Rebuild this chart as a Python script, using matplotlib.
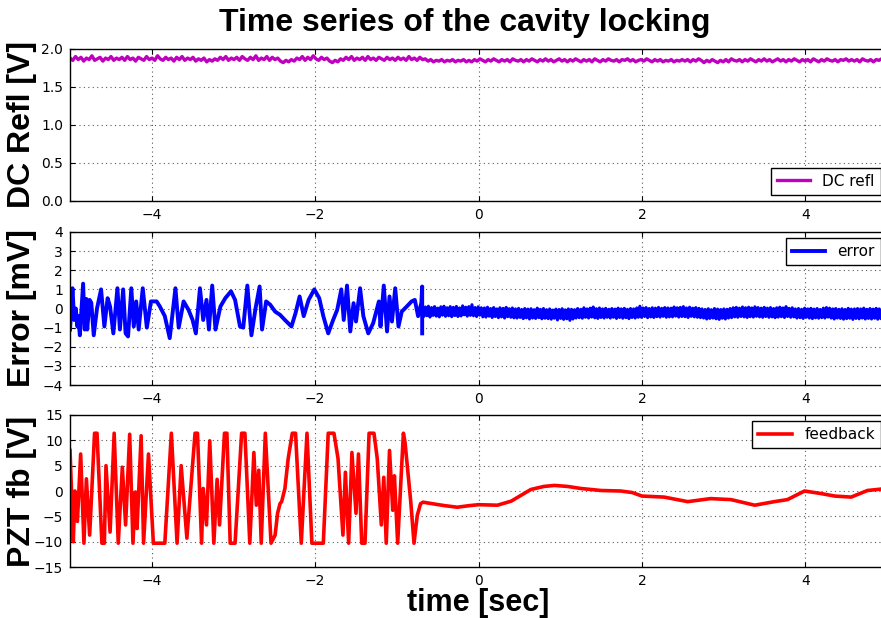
import matplotlib
matplotlib.use('Agg')
import matplotlib.pyplot as plt
import numpy as np

# DC reflection [V], sampled evenly from -5 to 5 s
dc_v = [
    1.88, 1.85, 1.90, 1.86, 1.89, 1.84, 1.88, 1.86, 1.91, 1.85, 1.87, 1.89, 1.84, 1.88, 1.86, 1.90, 1.85, 1.88, 1.86, 1.89,
    1.85, 1.90, 1.86, 1.88, 1.84, 1.89, 1.87, 1.85, 1.90, 1.86, 1.88, 1.85, 1.91, 1.87, 1.85, 1.89, 1.86, 1.88, 1.84, 1.89,
    1.86, 1.90, 1.85, 1.88, 1.86, 1.89, 1.84, 1.87, 1.85, 1.88, 1.83, 1.86, 1.84, 1.87, 1.85, 1.89, 1.86, 1.90, 1.85, 1.88,
    1.86, 1.89, 1.85, 1.90, 1.87, 1.85, 1.89, 1.86, 1.91, 1.85, 1.88, 1.86, 1.90, 1.85, 1.89, 1.86, 1.88, 1.84, 1.82, 1.85,
    1.83, 1.86, 1.84, 1.88, 1.86, 1.90, 1.85, 1.89, 1.86, 1.91, 1.87, 1.85, 1.89, 1.86, 1.88, 1.84, 1.82, 1.85, 1.83, 1.87,
    1.85, 1.89, 1.86, 1.90, 1.85, 1.88, 1.86, 1.89, 1.85, 1.90, 1.86, 1.88, 1.85, 1.89, 1.87, 1.85, 1.89, 1.86, 1.88, 1.85,
    1.89, 1.86, 1.88, 1.85, 1.90, 1.86, 1.88, 1.85, 1.89, 1.86, 1.87, 1.84, 1.86, 1.83, 1.85, 1.84, 1.86, 1.83, 1.85, 1.84,
    1.86, 1.83, 1.85, 1.84, 1.86, 1.83, 1.85,
    1.83, 1.86, 1.84, 1.87, 1.85, 1.83, 1.86, 1.84, 1.87, 1.85, 1.83, 1.86, 1.84, 1.86, 1.83, 1.87, 1.85, 1.84, 1.86, 1.83,
    1.86, 1.84, 1.87, 1.85, 1.83, 1.86, 1.84, 1.87, 1.84, 1.86, 1.83, 1.85, 1.87, 1.84, 1.86, 1.83, 1.86, 1.84, 1.87, 1.85,
    1.83, 1.86, 1.84, 1.86, 1.83, 1.87, 1.85, 1.83, 1.86, 1.84, 1.87, 1.85, 1.84, 1.86, 1.83, 1.86, 1.85, 1.87, 1.84, 1.86,
    1.83, 1.85, 1.86, 1.84, 1.87, 1.85, 1.83, 1.86, 1.84, 1.86, 1.83, 1.85, 1.84, 1.86, 1.83, 1.85, 1.84, 1.86, 1.84, 1.86,
    1.83, 1.86, 1.84, 1.87, 1.85, 1.82, 1.85, 1.83, 1.86, 1.84, 1.82, 1.85, 1.83, 1.86, 1.83, 1.87, 1.85, 1.84, 1.86, 1.83,
    1.86, 1.84, 1.87, 1.85, 1.83, 1.86, 1.84, 1.87, 1.84, 1.86, 1.83, 1.85, 1.87, 1.84, 1.86, 1.83, 1.86, 1.84, 1.87, 1.85,
    1.83, 1.86, 1.84, 1.86, 1.83, 1.87, 1.85, 1.83, 1.86, 1.84, 1.87, 1.85, 1.84, 1.86, 1.83, 1.86, 1.85, 1.87, 1.84, 1.86,
    1.84, 1.86, 1.83, 1.87, 1.85, 1.84, 1.86, 1.83, 1.86, 1.85, 1.87, 1.84, 1.86,
]

# error signal [mV] while unlocked (turning points)
err_t = [
    -5.00, -4.97, -4.95, -4.93, -4.91, -4.90, -4.88, -4.84, -4.82, -4.80,
    -4.79, -4.76, -4.74, -4.71, -4.67, -4.62, -4.58, -4.54, -4.51, -4.47,
    -4.42, -4.39, -4.35, -4.32, -4.29, -4.25, -4.22, -4.19, -4.16, -4.11,
    -4.06, -4.01, -3.94, -3.90, -3.84, -3.78, -3.71, -3.67, -3.61, -3.55,
    -3.50, -3.46, -3.41, -3.37, -3.33, -3.30, -3.26, -3.22, -3.16, -3.10,
    -3.03, -2.98, -2.92, -2.88, -2.83, -2.78, -2.73, -2.68, -2.65, -2.60,
    -2.55, -2.49, -2.43, -2.37, -2.29, -2.24, -2.19, -2.14, -2.08, -2.01,
    -1.95, -1.90, -1.84, -1.78, -1.73, -1.68, -1.65, -1.61, -1.57, -1.53,
    -1.50, -1.45, -1.41, -1.35, -1.29, -1.22, -1.20, -1.16, -1.12, -1.09,
    -1.06, -1.02, -0.98, -0.94, -0.88, -0.82, -0.78, -0.74, -0.70, -0.69,
    -0.69,
]
err_v = [
    -1.10, 1.06, -0.60, 0.00, -0.94, -0.40, -1.40, 1.30, -1.10, 0.50,
    -1.10, 0.45, 0.30, -1.40, 0.00, 1.00, -0.94, 0.54, 0.10, -1.30,
    1.06, -1.10, 1.00, -1.30, -1.46, 1.06, -0.94, 0.37, -1.10, 1.06,
    -1.00, 0.37, 0.37, 0.10, -0.40, -1.55, 1.06, -1.00, 0.37, -0.07,
    -0.60, -1.30, 1.06, -0.60, 0.45, -1.10, 1.20, -1.10, 0.10, 0.54,
    0.90, 0.45, -0.94, -1.00, 1.20, -1.40, 0.00, 1.15, -1.10, 0.37,
    0.20, -0.16, -0.33, -0.60, -0.94, -0.24, 0.63, -0.40, 0.45, 1.00,
    0.54, -0.40, -1.30, -0.60, -0.07, 1.00, -0.60, 1.20, -1.20, 0.28,
    -0.68, 1.06, -0.40, -1.30, -0.77, 0.37, -0.94, 1.20, -1.20, 0.63,
    -0.68, 1.06, -0.94, -0.16, 0.10, 0.37, 0.45, -0.40, 0.30, 1.15,
    -1.30,
]

# error signal [mV] once locked, sampled evenly from -0.69 to 5 s
err_lock_v = [
    0.15, -0.42, 0.08, -0.38, 0.12, -0.45, 0.05, -0.36, 0.10, -0.40, 0.02, -0.44, 0.09, -0.35, 0.12, -0.41, 0.04, -0.38, 0.10, -0.43,
    0.06, -0.37, 0.11, -0.42, 0.03, -0.39, 0.14, -0.33, 0.07, -0.40, 0.10, -0.36, 0.20, -0.38, 0.05, -0.42, 0.09, -0.35, 0.04, -0.44,
    0.03, -0.45, 0.07, -0.40, 0.00, -0.47, 0.05, -0.42, -0.02, -0.48, 0.04, -0.44, 0.01, -0.50, 0.06, -0.43, -0.01, -0.46, 0.03, -0.49,
    -0.02, -0.50, 0.01, -0.47, -0.05, -0.53, 0.00, -0.49, -0.03, -0.55, -0.01, -0.50, -0.06, -0.52, 0.02, -0.48, -0.04, -0.54, 0.00, -0.51,
    -0.06, -0.53, -0.02, -0.56, -0.08, -0.51, -0.03, -0.60, -0.05, -0.52, -0.01, -0.57, -0.07, -0.54, -0.02, -0.62, -0.04, -0.55, -0.06, -0.50,
    0.00, -0.48, -0.04, -0.51, 0.04, -0.46, -0.02, -0.50, 0.02, -0.45, 0.08, -0.49, -0.01, -0.52, 0.03, -0.47, -0.02, -0.50, 0.01, -0.46,
    -0.04, -0.50, 0.00, -0.46, -0.03, -0.52, 0.02, -0.47, -0.02, -0.51, 0.01, -0.48, -0.04, -0.53, 0.00, -0.47, -0.02, -0.50, 0.03, -0.46,
    0.12, -0.46, 0.03, -0.42, 0.05, -0.48, 0.00, -0.44, 0.04, -0.47, 0.02, -0.43, 0.06, -0.45, 0.01, -0.41, 0.05, -0.46, 0.03, -0.44,
    0.02, -0.44, 0.08, -0.40, 0.04, -0.45, 0.06, -0.42, 0.10, -0.43, 0.03, -0.47, 0.07, -0.41, 0.02, -0.44, 0.05, -0.46, 0.01, -0.48,
    -0.02, -0.50, -0.05, -0.55, -0.01, -0.52, -0.06, -0.50, 0.00, -0.54, -0.03, -0.57, -0.05, -0.51, -0.02, -0.55, -0.04, -0.50, 0.00, -0.48,
    0.04, -0.44, 0.06, -0.46, 0.02, -0.42, 0.08, -0.44, 0.04, -0.47, 0.07, -0.43, 0.03, -0.45, 0.09, -0.41, 0.05, -0.44, 0.02, -0.46,
    0.06, -0.42, 0.02, -0.46, 0.05, -0.44, 0.00, -0.48, 0.04, -0.45, 0.07, -0.43, 0.03, -0.47, 0.10, -0.42, 0.01, -0.46, 0.04, -0.44,
    -0.02, -0.50, 0.00, -0.48, -0.04, -0.52, 0.02, -0.46, -0.02, -0.50, 0.01, -0.53, -0.03, -0.49, 0.00, -0.51, -0.05, -0.48, 0.02, -0.50,
    0.05, -0.45, 0.02, -0.50, -0.02, -0.55, 0.00, -0.50, -0.04, -0.52, -0.01, -0.56, -0.05, -0.53, 0.01, -0.51, -0.03, -0.57, -0.02, -0.52,
    0.00, -0.54, -0.02, -0.50, 0.02, -0.55, -0.04, -0.52, 0.00, -0.55, -0.03, -0.51, 0.01, -0.56, -0.02, -0.53, -0.05, -0.58, 0.00, -0.54,
]

# PZT feedback [V] (turning points)
fb_t = [
    -5.00, -4.96, -4.94, -4.91, -4.87, -4.83, -4.80, -4.76, -4.70, -4.67,
    -4.61, -4.58, -4.56, -4.51, -4.46, -4.41, -4.36, -4.32, -4.27, -4.23,
    -4.20, -4.18, -4.13, -4.10, -4.04, -3.98, -3.84, -3.76, -3.69, -3.64,
    -3.57, -3.47, -3.44, -3.39, -3.37, -3.33, -3.29, -3.24, -3.20, -3.17,
    -3.11, -3.08, -3.04, -2.98, -2.90, -2.86, -2.80, -2.75, -2.72, -2.69,
    -2.66, -2.61, -2.54, -2.49, -2.46, -2.43, -2.41, -2.37, -2.33, -2.28,
    -2.24, -2.17, -2.10, -2.04, -1.90, -1.84, -1.77, -1.72, -1.66, -1.63,
    -1.59, -1.55, -1.50, -1.47, -1.43, -1.39, -1.34, -1.28, -1.24, -1.19,
    -1.16, -1.13, -1.09, -1.05, -1.03, -0.99, -0.92, -0.90, -0.83, -0.79,
    -0.75, -0.71, -0.68, -0.53, -0.41, -0.26, -0.12, 0.00, 0.23, 0.40,
    0.64, 0.80, 0.93, 1.09, 1.25, 1.50, 1.74, 1.88, 2.00, 2.27,
    2.56, 2.84, 3.09, 3.38, 3.62, 3.78, 3.99, 4.19, 4.36, 4.56,
    4.76, 5.00,
]
fb_v = [
    8.0, -10.0, 0.0, -6.0, 7.3, -10.3, 2.4, -8.7, 11.4, 11.4,
    -10.3, -10.3, 5.0, -8.1, 11.4, -10.3, 4.7, -6.7, 11.2, -10.3,
    -0.2, -7.4, 10.9, -10.3, 7.3, -10.3, -10.3, 11.4, -10.3, 5.0,
    -9.3, 11.4, 11.4, -10.3, 0.5, -6.7, 9.9, -10.3, 2.3, -6.7,
    11.4, 11.4, -10.3, -10.3, 11.4, 11.4, -10.3, 7.6, -2.8, 4.1,
    -10.3, 11.4, -10.3, -8.7, -4.4, -2.5, -2.1, 0.5, 6.4, 11.4,
    11.4, -10.3, 11.4, -10.3, -10.3, 11.4, 11.4, 6.4, -8.7, 3.7,
    -10.3, 7.6, -4.4, 7.3, -10.3, -10.3, 11.4, 11.4, 6.4, -6.7,
    2.7, -10.3, 8.0, -3.8, 3.0, -10.3, 11.4, 9.6, -2.1, -10.3,
    -4.8, -2.5, -2.2, -2.6, -2.9, -3.2, -2.9, -2.7, -2.8, -2.0,
    0.3, 0.9, 1.1, 0.9, 0.5, 0.1, 0.0, -0.3, -1.0, -1.2,
    -2.1, -1.5, -1.7, -2.8, -2.1, -1.7, 0.0, -0.5, -1.0, -1.2,
    0.1, 0.5,
]

dc_t = np.linspace(-5, 5, len(dc_v))
err_lock_t = np.linspace(-0.69, 5, len(err_lock_v))

bold = {'family': 'Liberation Sans', 'weight': 'bold', 'size': 23}
bold_x = dict(bold, size=22)
bold_y = dict(bold, size=23)

fig = plt.figure(figsize=(8.81, 6.18), dpi=100)
ax1 = fig.add_axes([0.0795, 0.6748, 0.9274, 0.2460])
ax2 = fig.add_axes([0.0795, 0.3770, 0.9274, 0.2476])
ax3 = fig.add_axes([0.0795, 0.0825, 0.9274, 0.2460])

ax1.plot(dc_t, dc_v, color='m', lw=2.4, label='DC refl')
ax2.plot(err_t, err_v, color='b', lw=2.8, label='error')
ax2.plot(err_lock_t, err_lock_v, color='b', lw=2.2)
ax3.plot(fb_t, fb_v, color='r', lw=2.6, label='feedback')

ax1.set_ylim(0, 2)
ax1.set_yticks([0.0, 0.5, 1.0, 1.5, 2.0])
ax2.set_ylim(-4, 4)
ax2.set_yticks(range(-4, 5))
ax3.set_ylim(-15, 15)
ax3.set_yticks(range(-15, 16, 5))

ax1.set_ylabel('DC Refl [V]', fontdict=bold_y)
ax2.set_ylabel('Error [mV]', fontdict=bold_y)
ax3.set_ylabel('PZT fb [V]', fontdict=bold_y)

for ax in (ax1, ax2, ax3):
    ax.set_xlim(-5, 5)
    ax.set_xticks([-4, -2, 0, 2, 4])
    ax.grid(True, linestyle=(0, (1, 3)), color='0.35', linewidth=0.8)
    ax.tick_params(direction='in', top=True, right=True, labelsize=10, pad=5)
    ax.yaxis.set_label_coords(-0.041, 0.5)
    for s in ax.spines.values():
        s.set_linewidth(1.0)

leg_kw = dict(fancybox=False, framealpha=1, edgecolor='k', fontsize=11,
              handlelength=2.2, borderaxespad=0.4)
ax1.legend(loc='lower right', **leg_kw).get_frame().set_linewidth(1.0)
ax2.legend(loc='upper right', **leg_kw).get_frame().set_linewidth(1.0)
ax3.legend(loc='upper right', **leg_kw).get_frame().set_linewidth(1.0)

fig.text(0.528, 0.963, 'Time series of the cavity locking', ha='center', va='center', fontdict=bold)
fig.text(0.5426, 0.024, 'time [sec]', ha='center', va='center', fontdict=bold_x)

fig.savefig('out.png', dpi=100)
